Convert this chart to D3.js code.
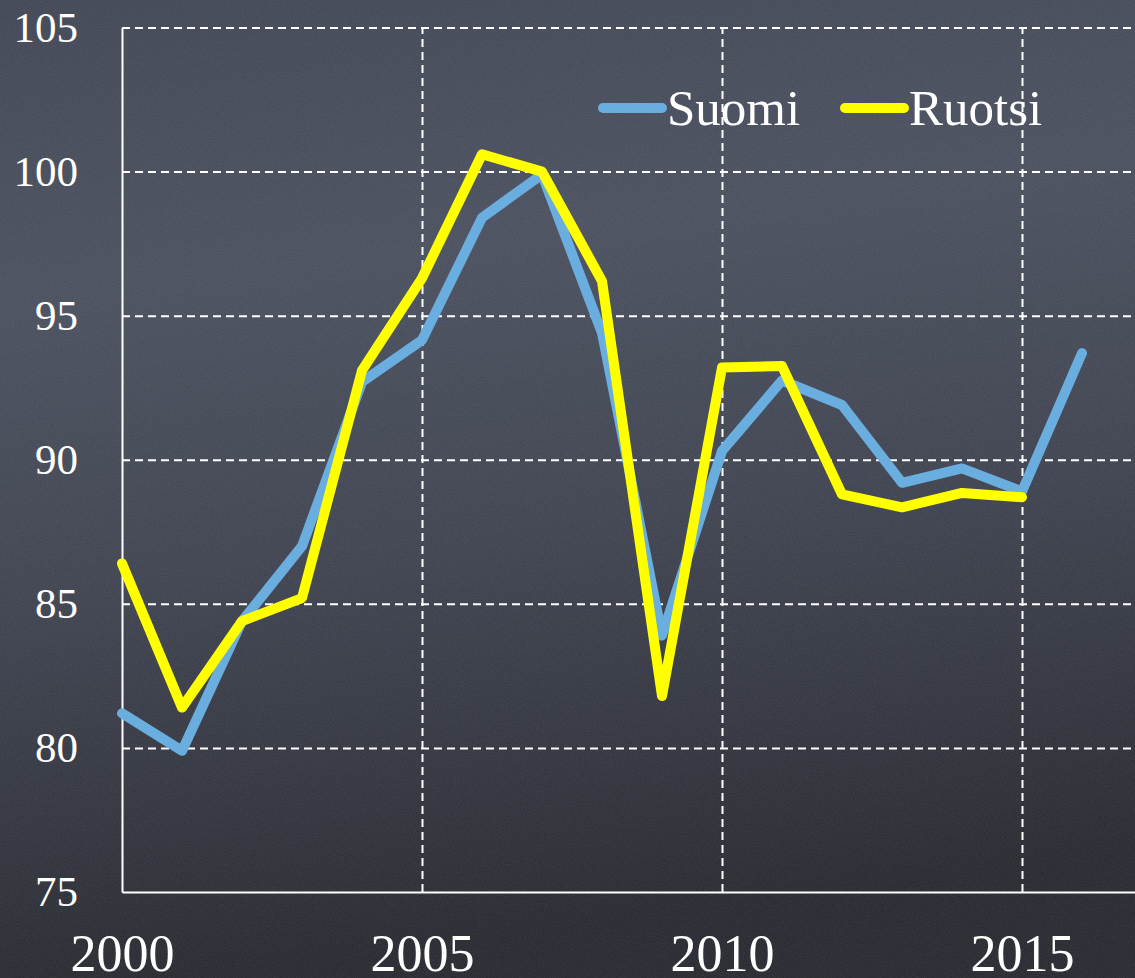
<!DOCTYPE html>
<html>
<head>
<meta charset="utf-8">
<script src="https://cdn.jsdelivr.net/npm/d3@7"></script>
<style>
  html, body { margin: 0; padding: 0; background: #2c2f38; overflow: hidden; }
  svg { display: block; }
</style>
</head>
<body>
<script>
(function(){
//chart data
var years = [2000, 2001, 2002, 2003, 2004, 2005, 2006, 2007, 2008, 2009, 2010, 2011, 2012, 2013, 2014, 2015, 2016];
var suomi = [81.2, 79.9, 84.4, 87.0, 92.7, 94.15, 98.4, 99.9, 94.4, 83.9, 90.3, 92.75, 91.9, 89.2, 89.7, 88.9, 93.7];
var ruotsi = [86.4, 81.4, 84.4, 85.2, 93.1, 96.3, 100.6, 100.0, 96.2, 81.8, 93.2, 93.25, 88.8, 88.35, 88.85, 88.7, null];
var seriesNames = ["Suomi", "Ruotsi"];
var seriesColors = ["#6aaee0", "#ffff00"];
var yTicks = [75, 80, 85, 90, 95, 100, 105];
var xTicks = [2000, 2005, 2010, 2015];

var serif = "'Liberation Serif', 'Times New Roman', serif";

window.onload = setChart();

function setChart(){
  var width = 1135,
      height = 978,
      left = 122,
      top = 27.5,
      bottom = 892;

  var svg = d3.select("body")
      .append("svg")
      .attr("width", width)
      .attr("height", height);

  //chalkboard background
  var defs = svg.append("defs");
  var grad = defs.append("linearGradient")
      .attr("id", "board")
      .attr("x1", 0).attr("y1", 0).attr("x2", 0.15).attr("y2", 1);
  [["0%", "#3e4352"], ["30%", "#474d5c"], ["60%", "#3c404d"], ["100%", "#24262d"]].forEach(function(s){
      grad.append("stop").attr("offset", s[0]).attr("stop-color", s[1]);
  });
  var noise = defs.append("filter").attr("id", "chalk")
      .attr("x", 0).attr("y", 0).attr("width", "100%").attr("height", "100%");
  noise.append("feTurbulence")
      .attr("type", "fractalNoise")
      .attr("baseFrequency", "0.9")
      .attr("numOctaves", 2)
      .attr("seed", 3);
  noise.append("feColorMatrix")
      .attr("type", "matrix")
      .attr("values", "0 0 0 0 1  0 0 0 0 1  0 0 0 0 1  0 0 0 0.1 0");

  svg.append("rect")
      .attr("width", width)
      .attr("height", height)
      .attr("fill", "url(#board)");
  svg.append("rect")
      .attr("width", width)
      .attr("height", height)
      .attr("filter", "url(#chalk)");

  //scales
  var x = d3.scaleLinear()
      .domain([2000, 2017])
      .range([left, left + 17 * 60]);
  var y = d3.scaleLinear()
      .domain([75, 105])
      .range([bottom, top]);

  //horizontal grid
  svg.append("g")
      .attr("class", "ygrid")
      .attr("transform", "translate(" + left + ",0)")
      .call(d3.axisLeft(y).tickValues(yTicks.slice(1)).tickSize(-(width - left)).tickFormat(""))
      .call(function(g){
          g.select(".domain").remove();
          g.selectAll("line")
              .attr("stroke", "#ffffff")
              .attr("stroke-width", 2)
              .attr("stroke-dasharray", "8,5");
      });

  //vertical grid
  svg.append("g")
      .attr("class", "xgrid")
      .attr("transform", "translate(0," + bottom + ")")
      .call(d3.axisBottom(x).tickValues(xTicks.slice(1)).tickSize(-(bottom - top)).tickFormat(""))
      .call(function(g){
          g.select(".domain").remove();
          g.selectAll("line")
              .attr("stroke", "#ffffff")
              .attr("stroke-width", 2)
              .attr("stroke-dasharray", "8,5");
      });

  //axes
  svg.append("g")
      .attr("class", "axis")
      .attr("transform", "translate(" + left + ",0)")
      .call(d3.axisLeft(y).tickValues(yTicks).tickSize(0).tickPadding(44).tickSizeOuter(0))
      .call(function(g){
          g.select(".domain").attr("stroke", "#ffffff").attr("stroke-width", 2);
          g.selectAll("text")
              .attr("fill", "#ffffff")
              .style("font-family", serif)
              .style("font-size", "43px");
      });

  svg.append("g")
      .attr("class", "axis")
      .attr("transform", "translate(0," + bottom + ")")
      .call(d3.axisBottom(x).tickValues(xTicks).tickSize(0).tickPadding(42).tickSizeOuter(0).tickFormat(d3.format("d")))
      .call(function(g){
          g.select(".domain").attr("stroke", "#ffffff").attr("stroke-width", 2);
          g.selectAll("text")
              .attr("fill", "#ffffff")
              .style("font-family", serif)
              .style("font-size", "52px");
      });

  //lines
  var line = d3.line()
      .defined(function(d){ return d[1] != null; })
      .x(function(d){ return x(d[0]); })
      .y(function(d){ return y(d[1]); });

  [suomi, ruotsi].forEach(function(vals, i){
      svg.append("path")
          .datum(years.map(function(yr, j){ return [yr, vals[j]]; }))
          .attr("fill", "none")
          .attr("stroke", seriesColors[i])
          .attr("stroke-width", 10)
          .attr("stroke-linejoin", "round")
          .attr("stroke-linecap", "round")
          .attr("d", line);
  });

  //legend
  var legendX = [603, 845];
  var legend = svg.selectAll(".legend")
      .data(seriesNames)
      .enter()
      .append("g")
      .attr("class", "legend")
      .attr("transform", function(d, i){ return "translate(" + legendX[i] + ",108)"; });
  legend.append("line")
      .attr("x1", 0).attr("x2", 59)
      .attr("stroke", function(d, i){ return seriesColors[i]; })
      .attr("stroke-width", 10)
      .attr("stroke-linecap", "round");
  legend.append("text")
      .attr("x", 64)
      .attr("y", 17)
      .style("font-family", serif)
      .style("font-size", "51px")
      .attr("fill", "#ffffff")
      .text(function(d){ return d; });
};

})();
</script>
</body>
</html>
